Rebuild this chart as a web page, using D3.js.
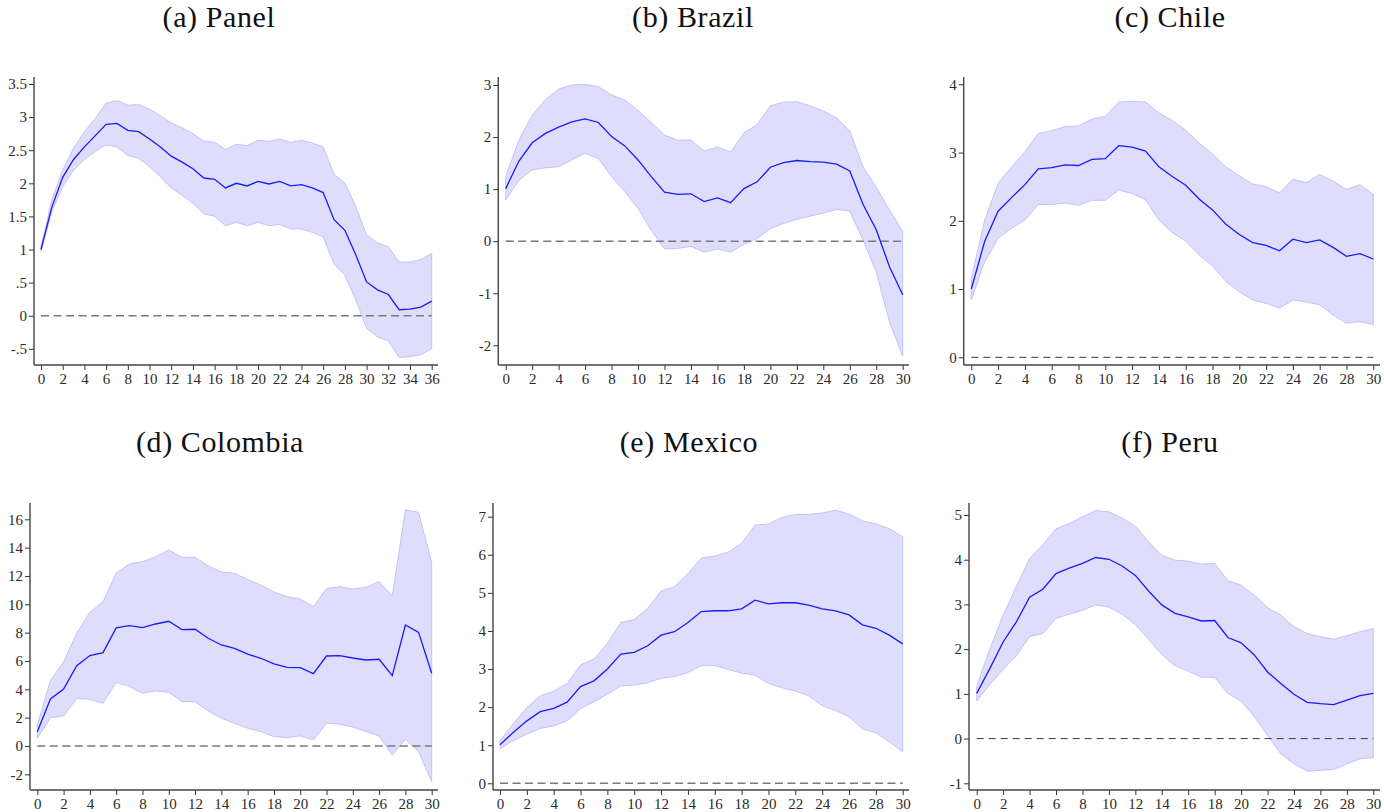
<!DOCTYPE html>
<html>
<head>
<meta charset="utf-8">
<script src="https://cdn.jsdelivr.net/npm/d3@7"></script>
<style>
  html, body { margin: 0; padding: 0; background: #fff; }
  svg { display: block; }
  svg text { font-family: 'Liberation Serif', 'Times New Roman', serif; }
</style>
</head>
<body>
<div id="chart"></div>
<script>
// Impulse responses with confidence bands

const titles = ["(a) Panel", "(b) Brazil", "(c) Chile", "(d) Colombia", "(e) Mexico", "(f) Peru"];

const panelMid = [1.0, 1.64, 2.09, 2.36, 2.55, 2.72, 2.89, 2.905, 2.80, 2.78, 2.67, 2.55, 2.41, 2.32, 2.22, 2.08, 2.06, 1.93, 2.00, 1.96, 2.03, 1.99, 2.03, 1.96, 1.98, 1.93, 1.86, 1.45, 1.29, 0.92, 0.51, 0.39, 0.32, 0.09, 0.10, 0.13, 0.22];
const panelHi = [1.04, 1.75, 2.2, 2.53, 2.78, 2.98, 3.21, 3.25, 3.18, 3.19, 3.12, 3.02, 2.91, 2.84, 2.75, 2.64, 2.62, 2.51, 2.59, 2.57, 2.65, 2.63, 2.67, 2.62, 2.65, 2.61, 2.55, 2.14, 2.00, 1.65, 1.22, 1.10, 1.04, 0.81, 0.81, 0.85, 0.94];
const panelLo = [0.97, 1.57, 1.95, 2.2, 2.36, 2.48, 2.58, 2.55, 2.42, 2.38, 2.25, 2.10, 1.93, 1.82, 1.70, 1.54, 1.50, 1.36, 1.41, 1.36, 1.41, 1.36, 1.38, 1.31, 1.31, 1.26, 1.19, 0.78, 0.61, 0.24, -0.19, -0.32, -0.38, -0.63, -0.62, -0.59, -0.50];

const brazilMid = [1.01, 1.54, 1.89, 2.07, 2.19, 2.29, 2.35, 2.28, 2.01, 1.83, 1.56, 1.24, 0.94, 0.90, 0.91, 0.76, 0.83, 0.74, 1.01, 1.14, 1.42, 1.51, 1.55, 1.53, 1.52, 1.48, 1.35, 0.71, 0.22, -0.49, -1.03];
const brazilHi = [1.24, 1.94, 2.42, 2.72, 2.92, 3.0, 3.01, 2.97, 2.81, 2.71, 2.51, 2.28, 2.04, 1.94, 1.94, 1.73, 1.81, 1.71, 2.08, 2.24, 2.60, 2.67, 2.68, 2.60, 2.50, 2.37, 2.12, 1.43, 1.04, 0.60, 0.19];
const brazilLo = [0.79, 1.17, 1.37, 1.41, 1.43, 1.56, 1.69, 1.59, 1.24, 0.95, 0.63, 0.21, -0.15, -0.14, -0.10, -0.21, -0.15, -0.21, -0.06, 0.05, 0.24, 0.34, 0.42, 0.48, 0.54, 0.61, 0.58, 0.02, -0.59, -1.55, -2.21];

const chileMid = [1.0, 1.70, 2.14, 2.34, 2.53, 2.76, 2.78, 2.82, 2.81, 2.90, 2.91, 3.10, 3.08, 3.02, 2.79, 2.65, 2.52, 2.32, 2.16, 1.95, 1.80, 1.68, 1.64, 1.56, 1.73, 1.68, 1.72, 1.61, 1.48, 1.52, 1.44];
const chileHi = [1.16, 2.01, 2.55, 2.79, 3.01, 3.28, 3.32, 3.38, 3.39, 3.49, 3.53, 3.74, 3.75, 3.74, 3.58, 3.47, 3.33, 3.14, 2.98, 2.79, 2.66, 2.54, 2.50, 2.41, 2.61, 2.56, 2.68, 2.58, 2.46, 2.53, 2.39];
const chileLo = [0.84, 1.40, 1.74, 1.89, 2.01, 2.24, 2.24, 2.26, 2.23, 2.30, 2.30, 2.45, 2.40, 2.31, 2.01, 1.83, 1.70, 1.50, 1.34, 1.11, 0.96, 0.84, 0.79, 0.72, 0.84, 0.81, 0.77, 0.62, 0.50, 0.52, 0.48];

const colombiaMid = [1.01, 3.32, 4.02, 5.67, 6.38, 6.59, 8.33, 8.49, 8.35, 8.61, 8.80, 8.21, 8.24, 7.60, 7.13, 6.89, 6.49, 6.19, 5.79, 5.55, 5.53, 5.11, 6.35, 6.38, 6.21, 6.07, 6.12, 4.96, 8.54, 8.02, 5.13];
const colombiaHi = [1.48, 4.61, 5.95, 7.95, 9.44, 10.19, 12.19, 12.85, 13.01, 13.36, 13.84, 13.32, 13.32, 12.71, 12.28, 12.19, 11.76, 11.36, 10.87, 10.54, 10.38, 9.84, 11.11, 11.25, 11.08, 11.20, 11.60, 10.59, 16.66, 16.49, 12.94];
const colombiaLo = [0.54, 2.0, 2.12, 3.36, 3.29, 3.01, 4.49, 4.19, 3.72, 3.88, 3.79, 3.13, 3.13, 2.47, 1.95, 1.60, 1.25, 1.01, 0.66, 0.59, 0.71, 0.42, 1.60, 1.53, 1.34, 1.01, 0.71, -0.64, 0.47, -0.40, -2.52];

const mexicoMid = [1.01, 1.34, 1.64, 1.88, 1.97, 2.13, 2.54, 2.69, 3.00, 3.39, 3.44, 3.61, 3.89, 3.98, 4.22, 4.51, 4.53, 4.53, 4.58, 4.81, 4.71, 4.74, 4.74, 4.68, 4.58, 4.53, 4.42, 4.16, 4.07, 3.89, 3.66];
const mexicoHi = [1.12, 1.57, 1.99, 2.30, 2.42, 2.62, 3.11, 3.26, 3.67, 4.22, 4.30, 4.59, 5.05, 5.16, 5.51, 5.91, 5.97, 6.07, 6.30, 6.78, 6.81, 6.98, 7.06, 7.06, 7.10, 7.17, 7.07, 6.89, 6.81, 6.69, 6.47];
const mexicoLo = [0.91, 1.12, 1.29, 1.44, 1.51, 1.64, 1.96, 2.14, 2.34, 2.56, 2.58, 2.64, 2.76, 2.80, 2.91, 3.09, 3.09, 2.99, 2.89, 2.84, 2.62, 2.51, 2.42, 2.30, 2.04, 1.91, 1.75, 1.43, 1.33, 1.09, 0.83];

const peruMid = [1.01, 1.57, 2.16, 2.61, 3.16, 3.34, 3.69, 3.81, 3.92, 4.05, 4.01, 3.86, 3.65, 3.30, 2.99, 2.80, 2.72, 2.63, 2.64, 2.26, 2.14, 1.87, 1.49, 1.23, 0.99, 0.81, 0.78, 0.76, 0.86, 0.96, 1.01];
const peruHi = [1.17, 2.01, 2.76, 3.40, 4.03, 4.33, 4.69, 4.81, 4.96, 5.10, 5.07, 4.93, 4.75, 4.40, 4.10, 3.99, 3.97, 3.90, 3.92, 3.53, 3.43, 3.21, 2.93, 2.76, 2.50, 2.35, 2.28, 2.22, 2.30, 2.39, 2.46];
const peruLo = [0.84, 1.21, 1.55, 1.85, 2.28, 2.35, 2.69, 2.78, 2.87, 2.99, 2.94, 2.78, 2.55, 2.22, 1.88, 1.63, 1.51, 1.37, 1.37, 1.01, 0.84, 0.49, 0.07, -0.34, -0.56, -0.73, -0.71, -0.69, -0.57, -0.45, -0.43];

// tick values and their labels (Stata style: hyphen minus, no leading zero)
const panelYTicks = [-0.5, 0, 0.5, 1, 1.5, 2, 2.5, 3, 3.5];
const panelYLabels = ["-.5", "0", ".5", "1", "1.5", "2", "2.5", "3", "3.5"];
const brazilYTicks = [-2, -1, 0, 1, 2, 3];
const chileYTicks = [0, 1, 2, 3, 4];
const colombiaYTicks = [-2, 0, 2, 4, 6, 8, 10, 12, 14, 16];
const mexicoYTicks = [0, 1, 2, 3, 4, 5, 6, 7];
const peruYTicks = [-1, 0, 1, 2, 3, 4, 5];
const xTicks36 = d3.range(0, 37, 2);
const xTicks30 = d3.range(0, 31, 2);

const W = 1384, H = 812;
const SERIF = "'Liberation Serif', 'Times New Roman', serif";

// layout per panel: axis box, scale ranges and title position
const panels = [
  { title: titles[0], mid: panelMid, hi: panelHi, lo: panelLo, yTicks: panelYTicks, yLabels: panelYLabels, xTicks: xTicks36,
    axisX: 34, axisTop: 77, axisRight: 438, axisY: 365, xr: [41, 431.7], yd: [-0.5, 3.5], yr: [348.8, 84], tx: 219, ty: 27, zero: "thick" },
  { title: titles[1], mid: brazilMid, hi: brazilHi, lo: brazilLo, yTicks: brazilYTicks, xTicks: xTicks30,
    axisX: 498.3, axisTop: 77, axisRight: 909, axisY: 365, xr: [505.7, 902.7], yd: [-2, 3], yr: [345.3, 85], tx: 693, ty: 27, zero: "thick" },
  { title: titles[2], mid: chileMid, hi: chileHi, lo: chileLo, yTicks: chileYTicks, xTicks: xTicks30,
    axisX: 963.7, axisTop: 77, axisRight: 1380, axisY: 365, xr: [971.3, 1373.3], yd: [0, 4], yr: [357.3, 84.3], tx: 1170, ty: 27, zero: "thin" },
  { title: titles[3], mid: colombiaMid, hi: colombiaHi, lo: colombiaLo, yTicks: colombiaYTicks, xTicks: xTicks30,
    axisX: 30, axisTop: 503, axisRight: 438, axisY: 790, xr: [37.3, 431.7], yd: [-2, 16], yr: [774.3, 519.3], tx: 220, ty: 452, zero: "thick" },
  { title: titles[4], mid: mexicoMid, hi: mexicoHi, lo: mexicoLo, yTicks: mexicoYTicks, xTicks: xTicks30,
    axisX: 493, axisTop: 503, axisRight: 909, axisY: 790, xr: [500, 902.7], yd: [0, 7], yr: [783.3, 516.7], tx: 689, ty: 452, zero: "thick" },
  { title: titles[5], mid: peruMid, hi: peruHi, lo: peruLo, yTicks: peruYTicks, xTicks: xTicks30,
    axisX: 969, axisTop: 503, axisRight: 1380, axisY: 790, xr: [976.7, 1373.3], yd: [-1, 5], yr: [783.3, 515], tx: 1170, ty: 452, zero: "thin" }
];

const svg = d3.select("#chart").append("svg")
  .attr("width", W).attr("height", H)
  .attr("font-family", SERIF);

panels.forEach(p => {
  const n = p.mid.length;
  const x = d3.scaleLinear().domain([0, n - 1]).range(p.xr);
  const y = d3.scaleLinear().domain(p.yd).range(p.yr);
  const g = svg.append("g");

  // confidence band
  const area = d3.area()
    .x((d, i) => x(i))
    .y0((d, i) => y(p.lo[i]))
    .y1((d, i) => y(p.hi[i]));
  g.append("path").datum(p.mid)
    .attr("d", area)
    .attr("fill", "#dedefc")
    .attr("stroke", "#b8b8f6")
    .attr("stroke-width", 0.8);

  // zero line
  g.append("line")
    .attr("x1", x(0)).attr("x2", x(n - 1))
    .attr("y1", y(0)).attr("y2", y(0))
    .attr("stroke", p.zero === "thick" ? "#7a7a7a" : "#3a3a3a")
    .attr("stroke-width", p.zero === "thick" ? 1.6 : 1)
    .attr("stroke-dasharray", p.zero === "thick" ? "8,4.5" : "7,5");

  // point estimate
  const line = d3.line().x((d, i) => x(i)).y(d => y(d));
  g.append("path").datum(p.mid)
    .attr("d", line)
    .attr("fill", "none")
    .attr("stroke", "#1a1aff")
    .attr("stroke-width", 1.3);

  // axes
  const yAxis = d3.axisLeft(y)
    .tickValues(p.yTicks)
    .tickFormat((d, i) => p.yLabels ? p.yLabels[i] : String(d))
    .tickSize(5).tickSizeOuter(0).tickPadding(2);
  const ya = g.append("g").attr("transform", `translate(${p.axisX},0)`).call(yAxis);

  const xAxis = d3.axisBottom(x)
    .tickValues(p.xTicks)
    .tickFormat(d => String(d))
    .tickSize(5).tickSizeOuter(0).tickPadding(3);
  const xa = g.append("g").attr("transform", `translate(0,${p.axisY})`).call(xAxis);

  [ya, xa].forEach(a => {
    a.attr("font-family", SERIF).attr("font-size", 15);
    a.select(".domain").remove();
    a.selectAll(".tick line").attr("stroke", "#333").attr("stroke-width", 1);
    a.selectAll(".tick text").attr("fill", "#2a2a2a");
  });

  g.append("line")
    .attr("x1", p.axisX).attr("x2", p.axisX)
    .attr("y1", p.axisTop).attr("y2", p.axisY)
    .attr("stroke", "#444").attr("stroke-width", 1.4);
  g.append("line")
    .attr("x1", p.axisX).attr("x2", p.axisRight)
    .attr("y1", p.axisY).attr("y2", p.axisY)
    .attr("stroke", "#444").attr("stroke-width", 1.4);

  // panel title
  svg.append("text")
    .attr("x", p.tx).attr("y", p.ty)
    .attr("text-anchor", "middle")
    .attr("fill", "#111")
    .attr("font-size", 30)
    .style("letter-spacing", "0.6px")
    .text(p.title);
});
</script>
</body>
</html>
